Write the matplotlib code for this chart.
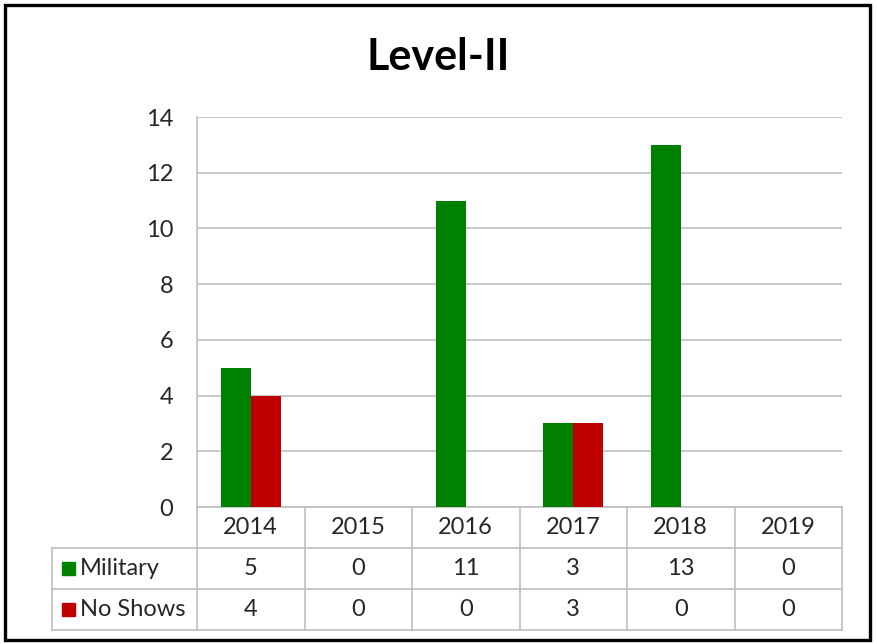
import numpy as np
import matplotlib.pyplot as plt
from matplotlib.patches import Rectangle
from matplotlib.transforms import blended_transform_factory

# -----------------------------
# Data
# -----------------------------
years = ['2014', '2015', '2016', '2017', '2018', '2019']
military = [5, 0, 11, 3, 13, 0]
no_shows = [4, 0, 0, 3, 0, 0]
series_names = ['Military', 'No Shows']
series_colors = ['#008000', '#C00000']

plt.rcParams['font.family'] = ['Lato', 'DejaVu Sans']

W, H = 877, 644
fig = plt.figure(figsize=(W / 100, H / 100), dpi=100)

# plot area in pixels
px_l, px_r, px_t, px_b = 197, 842, 117, 507
ax = fig.add_axes([px_l / W, (H - px_b) / H, (px_r - px_l) / W, (px_b - px_t) / H])

x = np.arange(len(years))
w = 0.28
ax.bar(x - w / 2, military, w, color=series_colors[0], zorder=3)
ax.bar(x + w / 2, no_shows, w, color=series_colors[1], zorder=3)

ax.set_xlim(-0.5, len(years) - 0.5)
ax.set_ylim(0, 14)
ax.set_yticks(range(0, 15, 2))
ax.set_xticks([])
ax.grid(axis='y', color='#BFBFBF', lw=1.2, zorder=0)
for s in ['top', 'right', 'bottom']:
    ax.spines[s].set_visible(False)
ax.spines['left'].set_color('#BFBFBF')
ax.spines['left'].set_linewidth(1.2)
ax.tick_params(axis='y', length=0, pad=17, labelsize=17, labelcolor='#262626')

# -----------------------------
# Data table below the axis
# -----------------------------
line_c = '#BFBFBF'
fs = 17
ah = px_b - px_t
aw = px_r - px_l
row_h = 41 / ah
rows_y = [0, -row_h, -2 * row_h, -3 * row_h]
tab_left = (52 - px_l) / aw
bt = blended_transform_factory(ax.transData, ax.transAxes)

# horizontal lines
ax.plot([0, 1], [0, 0], transform=ax.transAxes, color=line_c, lw=1.2, clip_on=False)
for yy in rows_y[1:]:
    ax.plot([tab_left, 1], [yy, yy], transform=ax.transAxes, color=line_c, lw=1.2, clip_on=False)
# vertical lines
for xb in np.arange(len(years) + 1) - 0.5:
    ax.plot([xb, xb], [0, rows_y[-1]], transform=bt, color=line_c, lw=1.2, clip_on=False)
ax.plot([tab_left, tab_left], [rows_y[1], rows_y[-1]], transform=ax.transAxes,
        color=line_c, lw=1.2, clip_on=False)

# header
for i, yr in enumerate(years):
    ax.text(i, -row_h / 2, yr, transform=bt, ha='center', va='center',
            fontsize=fs, color='#262626')

# rows
for r, (name, vals, col) in enumerate(zip(series_names, [military, no_shows], series_colors)):
    yc = -(r + 1.5) * row_h
    sq = 13
    ax.add_patch(Rectangle(((62 - px_l) / aw, yc - sq / 2 / ah), sq / aw, sq / ah,
                           transform=ax.transAxes, color=col, clip_on=False))
    ax.text((80 - px_l) / aw, yc, name, transform=ax.transAxes, ha='left', va='center',
            fontsize=fs, color='#262626')
    for i, v in enumerate(vals):
        ax.text(i, yc, str(v), transform=bt, ha='center', va='center',
                fontsize=fs, color='#262626')

# title
fig.text(438 / W, (H - 57) / H, 'Level-II', ha='center', va='center',
         fontsize=31, fontweight='bold', color='black')

# outer border
fig.patches.append(Rectangle((5 / W, 4 / H), 865 / W, 635 / H, transform=fig.transFigure,
                             fill=False, edgecolor='black', lw=2.4))

fig.savefig('out.png', dpi=100)
